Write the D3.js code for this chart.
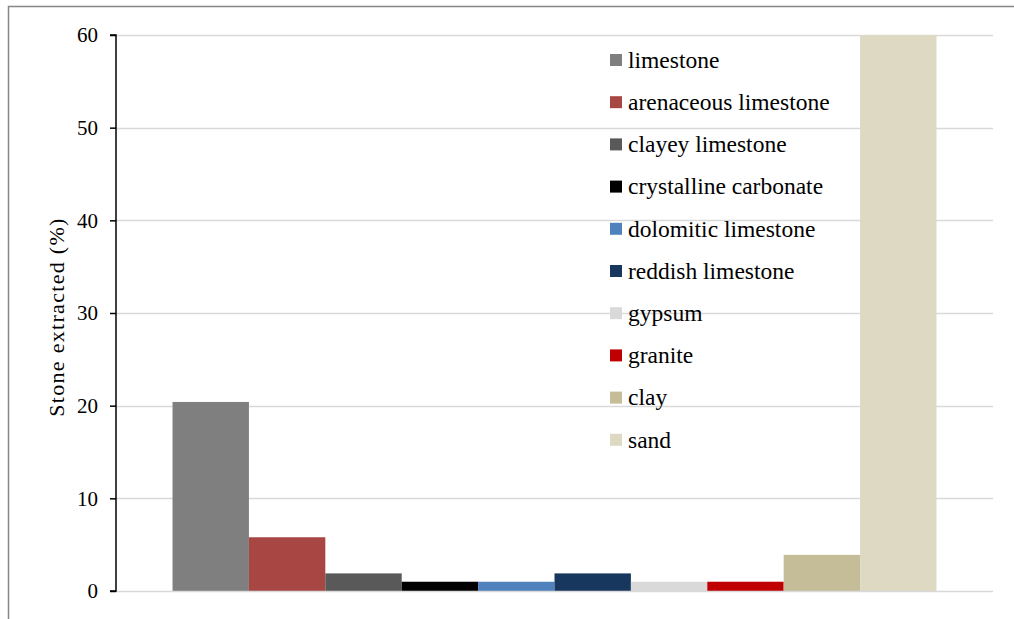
<!DOCTYPE html>
<html>
<head>
<meta charset="utf-8">
<script src="https://cdn.jsdelivr.net/npm/d3@7"></script>
<style>
  html, body { margin: 0; padding: 0; background: #fff; }
  svg { display: block; }
  text { font-family: "Liberation Serif", "Times New Roman", serif; fill: #000; }
</style>
</head>
<body>
<svg id="chart" width="1014" height="619"></svg>
<script>
// Share of stone extracted by type (%)
const stoneTypes = ["limestone", "arenaceous limestone", "clayey limestone", "crystalline carbonate",
  "dolomitic limestone", "reddish limestone", "gypsum", "granite", "clay", "sand"];
const extractedPct = [20.4, 5.8, 1.9, 1, 1, 1.9, 1, 1, 3.9, 60];
const stoneColors = ["#7f7f7f", "#a84643", "#595959", "#000000", "#4f81bd",
  "#17375e", "#d9d9d9", "#c00000", "#c4bd97", "#ddd9c3"];
const yTicks = [0, 10, 20, 30, 40, 50, 60];
const yLabel = "Stone extracted (%)";

const svg = d3.select("#chart");
const W = 1014, H = 619;
const plot = { left: 116, right: 993, top: 35, bottom: 591 };

// outer frame
svg.append("path")
  .attr("d", `M8.5,${H} L8.5,6.5 L${W},6.5`)
  .attr("fill", "none").attr("stroke", "#868686").attr("stroke-width", 1.5);

const y = d3.scaleLinear().domain([0, 60]).range([plot.bottom, plot.top]);

// single category cluster, one band per stone type
const group = d3.scaleBand().domain(["all"]).range([plot.left, plot.right]).paddingInner(0).paddingOuter(0.074);
const x = d3.scaleBand().domain(stoneTypes).range([group("all"), group("all") + group.bandwidth()]).padding(0);

// gridlines
svg.append("g").selectAll("line").data(yTicks.filter(d => d > 0)).join("line")
  .attr("x1", plot.left).attr("x2", plot.right)
  .attr("y1", d => Math.round(y(d)) + 0.5).attr("y2", d => Math.round(y(d)) + 0.5)
  .attr("stroke", "#d9d9d9").attr("stroke-width", 1.5);

// bars
svg.append("g").selectAll("rect").data(stoneTypes).join("rect")
  .attr("x", d => x(d))
  .attr("width", x.bandwidth())
  .attr("y", (d, i) => y(extractedPct[i]))
  .attr("height", (d, i) => y(0) - y(extractedPct[i]))
  .attr("fill", (d, i) => stoneColors[i]);

// baseline
svg.append("line")
  .attr("x1", plot.left).attr("x2", plot.right)
  .attr("y1", y(0) + 0.5).attr("y2", y(0) + 0.5)
  .attr("stroke", "#d9d9d9").attr("stroke-width", 1.5);

// y axis
const yAxis = d3.axisLeft(y).tickValues(yTicks).tickSize(6).tickPadding(12).tickFormat(d3.format("d"));
const ya = svg.append("g").attr("transform", `translate(${plot.left},0)`).call(yAxis);
ya.select(".domain").attr("stroke", "#000").attr("stroke-width", 1.5).attr("d", `M-6,${y(60)}H0V${y(0)}H-6`);
ya.selectAll(".tick line").attr("stroke", "#000").attr("stroke-width", 1.5);
ya.selectAll(".tick text").style("font-family", '"Liberation Serif", serif').style("font-size", "21px").attr("fill", "#000");

// y axis title
svg.append("text")
  .attr("transform", `translate(64,${(plot.top + plot.bottom) / 2 + 4}) rotate(-90)`)
  .attr("text-anchor", "middle")
  .style("font-size", "22px")
  .style("letter-spacing", "1.3px")
  .text(yLabel);

// legend
const legend = svg.append("g").attr("transform", "translate(610,60)");
const rows = legend.selectAll("g").data(stoneTypes).join("g")
  .attr("transform", (d, i) => `translate(0,${i * 42.2})`);
rows.append("rect").attr("x", 0).attr("y", -6).attr("width", 12).attr("height", 12)
  .attr("fill", (d, i) => stoneColors[i]);
rows.append("text").attr("x", 18).attr("y", 0).attr("dy", "0.33em")
  .style("font-size", "23.5px").text(d => d);
</script>
</body>
</html>
